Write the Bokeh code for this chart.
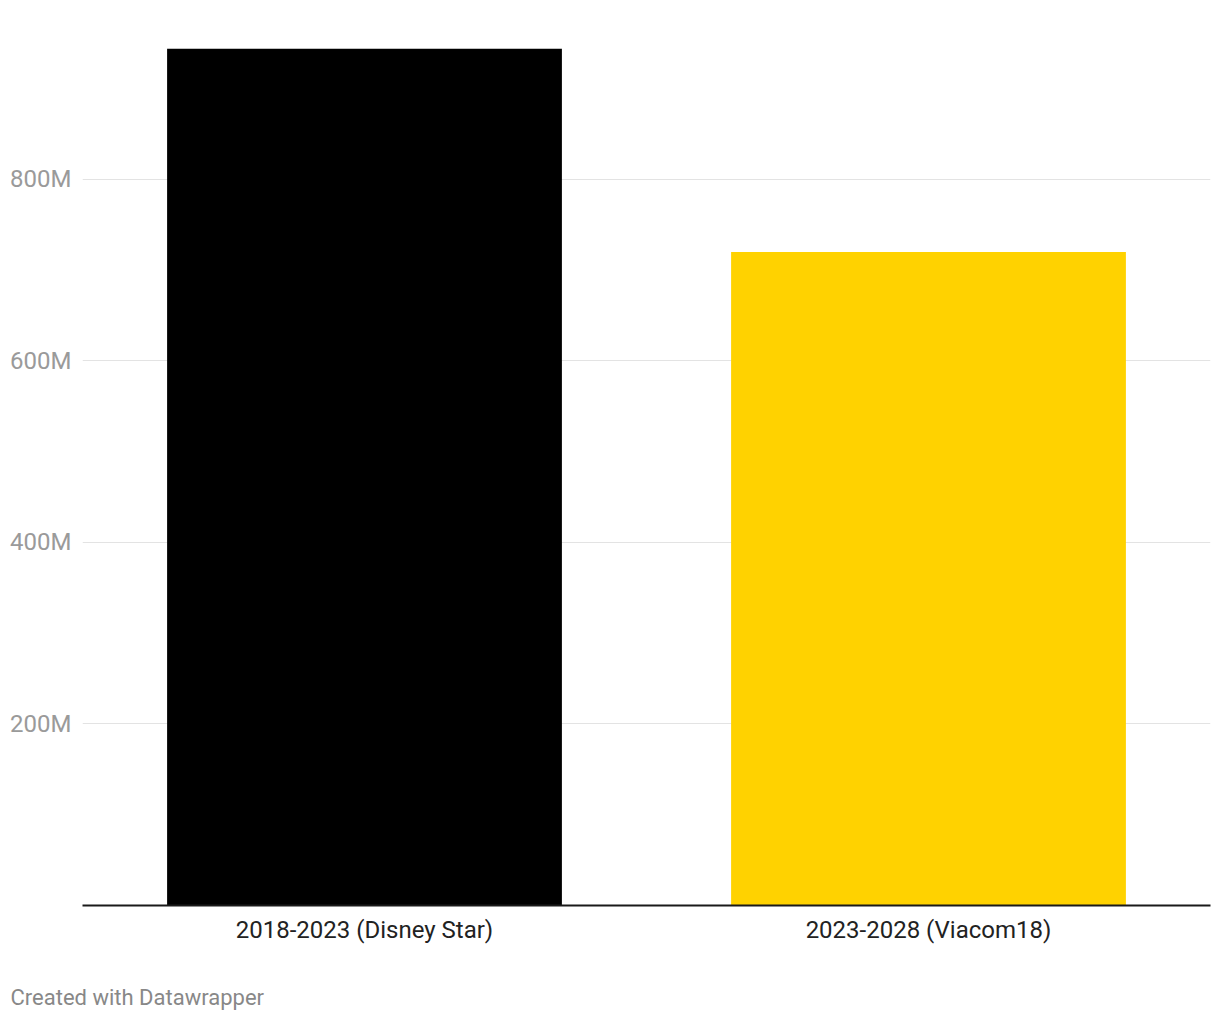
from bokeh.plotting import figure
from bokeh.models import FixedTicker, Title, ColumnDataSource
from bokeh.embed import file_html
from bokeh.resources import INLINE

categories = ["2018-2023 (Disney Star)", "2023-2028 (Viacom18)"]
values_m = [944, 720]
bar_colors = ["#000000", "#ffd200"]
tick_values = [200, 400, 600, 800]
tick_labels = ["200M", "400M", "600M", "800M"]

src = ColumnDataSource(dict(cat=categories, val=values_m, color=bar_colors))

p = figure(width=1212, height=1012, x_range=categories, y_range=(0, 975.2),
           output_backend="svg", toolbar_location=None,
           min_border_left=82, min_border_right=2, min_border_top=20, min_border_bottom=107)
p.outline_line_color = None
p.background_fill_color = "white"
p.border_fill_color = "white"

p.vbar(x="cat", top="val", width=0.7, color="color", source=src, line_color=None)

p.xgrid.grid_line_color = None
p.ygrid.grid_line_color = "#e3e3e3"
p.ygrid.grid_line_width = 1
p.ygrid.ticker = FixedTicker(ticks=tick_values)

p.yaxis.ticker = FixedTicker(ticks=tick_values)
p.yaxis.major_label_overrides = {v: l for v, l in zip(tick_values, tick_labels)}
p.yaxis.axis_line_color = None
p.yaxis.major_tick_line_color = None
p.yaxis.minor_tick_line_color = None
p.yaxis.major_tick_out = 0
p.yaxis.major_tick_in = 0
p.yaxis.major_label_text_color = "#9a9a9a"
p.yaxis.major_label_text_font = "Roboto"
p.yaxis.major_label_text_font_size = "24px"
p.yaxis.major_label_standoff = 11

p.xaxis.axis_line_color = "#1a1a1a"
p.xaxis.axis_line_width = 2
p.xaxis.major_tick_line_color = None
p.xaxis.minor_tick_line_color = None
p.xaxis.major_tick_out = 0
p.xaxis.major_tick_in = 0
p.xaxis.major_label_text_color = "#222222"
p.xaxis.major_label_text_font = "Roboto"
p.xaxis.major_label_text_font_size = "24px"
p.xaxis.major_label_standoff = 10
# invisible spacer label to push the footer down
p.xaxis.axis_label = "\u00a0"
p.xaxis.axis_label_text_font_size = "10px"
p.xaxis.axis_label_standoff = 21
p.xaxis.axis_label_text_color = "white"

footer = Title(text="Created with Datawrapper", align="left", offset=-72,
               text_font="Roboto", text_font_size="22px", text_color="#888888",
               text_font_style="normal", standoff=2)
p.add_layout(footer, "below")

open("out.html", "w").write(file_html(p, INLINE))
